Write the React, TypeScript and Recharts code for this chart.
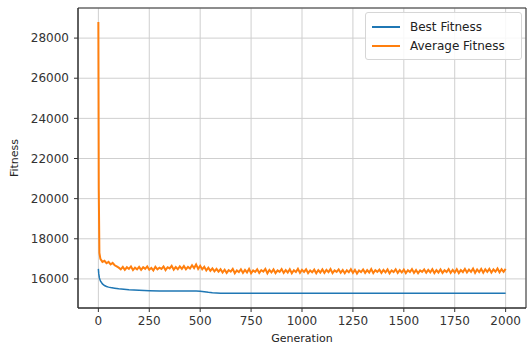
import { LineChart, Line, XAxis, YAxis, CartesianGrid, Legend, ReferenceArea } from 'recharts';

// Best fitness per generation (sparse, the curve is smooth)
const BEST_GENS = [0, 2, 5, 10, 20, 30, 40, 50, 60, 80, 100, 150, 200, 250, 300, 400, 480, 500, 520, 540, 560, 580, 600, 700, 800, 1000, 1250, 1500, 1750, 2000];
const BEST_VALUES = [16500, 16250, 16050, 15900, 15750, 15670, 15620, 15590, 15570, 15540, 15510, 15460, 15430, 15410, 15400, 15400, 15400, 15390, 15360, 15330, 15310, 15300, 15290, 15290, 15290, 15285, 15285, 15280, 15280, 15280];

// Average fitness: first few generations, then every 10 generations
const AVG_EARLY_GENS = [0, 2, 5];
const AVG_EARLY_VALUES = [28800, 20500, 17300];
const AVG_VALUES = [
  17000, 16850, 16900, 16780, 16850, 16720, 16800, 16680, 16620, 16560,
  16480, 16600, 16450, 16580, 16500, 16620, 16440, 16560, 16480, 16600,
  16450, 16580, 16500, 16620, 16460, 16550, 16420, 16600, 16480, 16560,
  16500, 16620, 16440, 16580, 16520, 16650, 16460, 16590, 16480, 16620,
  16500, 16640, 16480, 16600, 16520, 16680, 16540, 16720, 16500, 16650,
  16480, 16600, 16420, 16560, 16400, 16520, 16380, 16500, 16360, 16480,
  16320, 16460, 16300, 16440, 16360, 16500, 16280, 16420, 16340, 16480,
  16300, 16450, 16320, 16500, 16280, 16420, 16350, 16480, 16300, 16440,
  16360, 16500, 16280, 16450, 16330, 16470, 16290, 16420, 16350, 16490,
  16300, 16440, 16320, 16480, 16280, 16430, 16340, 16500, 16300, 16450,
  16350, 16480, 16290, 16420, 16330, 16460, 16280, 16440, 16320, 16470,
  16300, 16450, 16340, 16490, 16290, 16420, 16350, 16470, 16310, 16440,
  16280, 16430, 16330, 16480, 16300, 16450, 16270, 16420, 16340, 16470,
  16300, 16440, 16320, 16490, 16290, 16430, 16350, 16460, 16300, 16450,
  16330, 16470, 16280, 16420, 16340, 16480, 16300, 16440, 16320, 16460,
  16290, 16430, 16340, 16490, 16300, 16440, 16280, 16420, 16350, 16470,
  16310, 16450, 16330, 16480, 16290, 16440, 16320, 16470, 16300, 16430,
  16340, 16490, 16300, 16450, 16320, 16480, 16290, 16440, 16340, 16500,
  16320, 16460, 16350, 16510, 16300, 16470, 16340, 16500, 16310, 16480,
  16350, 16500, 16320, 16470, 16360, 16520, 16330, 16480, 16350, 16500,
];

const X_TICKS = [0, 250, 500, 750, 1000, 1250, 1500, 1750, 2000];
const Y_TICKS = [16000, 18000, 20000, 22000, 24000, 26000, 28000];

const X_DOMAIN: [number, number] = [-100, 2100];
const Y_DOMAIN: [number, number] = [14550, 29500];

const BLUE = '#1f77b4';
const ORANGE = '#ff7f0e';
const FONT = '"DejaVu Sans", sans-serif';

const bestData = BEST_GENS.map((g, i) => ({ gen: g, best: BEST_VALUES[i] }));
const avgData = [
  ...AVG_EARLY_GENS.map((g, i) => ({ gen: g, avg: AVG_EARLY_VALUES[i] })),
  ...AVG_VALUES.map((v, i) => ({ gen: (i + 1) * 10, avg: v })),
];

const legendItems = [
  { label: 'Best Fitness', color: BLUE },
  { label: 'Average Fitness', color: ORANGE },
];

function renderLegend() {
  return (
    <div
      style={{
        border: '1px solid #d6d6d6',
        borderRadius: 3,
        background: 'rgba(255,255,255,0.85)',
        padding: '4px 6px',
        fontFamily: FONT,
        fontSize: 12,
        color: '#222',
        boxSizing: 'border-box',
      }}
    >
      {legendItems.map((item) => (
        <div key={item.label} style={{ display: 'flex', alignItems: 'center', height: 19 }}>
          <span style={{ display: 'inline-block', width: 28, height: 2, background: item.color, marginRight: 10 }} />
          <span>{item.label}</span>
        </div>
      ))}
    </div>
  );
}

export default function App() {
  return (
    <div style={{ position: 'absolute', left: 0, top: 0, background: '#fff' }}>
      <LineChart width={528} height={345} margin={{ top: 8, right: 2, bottom: 7, left: 0 }}>
        <CartesianGrid stroke="#cfcfcf" strokeWidth={1} />
        <XAxis
          dataKey="gen"
          type="number"
          domain={X_DOMAIN}
          ticks={X_TICKS}
          allowDataOverflow
          height={30}
          tickSize={4}
          tickMargin={4}
          stroke="#333"
          tick={{ fill: '#333', fontSize: 12, fontFamily: FONT }}
          label={{
            content: ({ viewBox }: any) => (
              <text
                x={viewBox.x + viewBox.width / 2}
                y={338}
                textAnchor="middle"
                dominantBaseline="central"
                fontSize={11}
                fontFamily={FONT}
                fill="#222"
              >
                Generation
              </text>
            ),
          }}
        />
        <YAxis
          type="number"
          domain={Y_DOMAIN}
          ticks={Y_TICKS}
          allowDataOverflow
          width={78}
          tickSize={4}
          tickMargin={5}
          stroke="#333"
          tick={{ fill: '#333', fontSize: 12, fontFamily: FONT }}
          label={{
            content: ({ viewBox }: any) => {
              const x = 14;
              const y = viewBox.y + viewBox.height / 2;
              return (
                <text
                  x={x}
                  y={y}
                  transform={`rotate(-90 ${x} ${y})`}
                  textAnchor="middle"
                  dominantBaseline="central"
                  fontSize={11}
                  fontFamily={FONT}
                  fill="#222"
                >
                  Fitness
                </text>
              );
            },
          }}
        />
        <ReferenceArea
          x1={X_DOMAIN[0]}
          x2={X_DOMAIN[1]}
          y1={Y_DOMAIN[0]}
          y2={Y_DOMAIN[1]}
          fill="none"
          stroke="#333"
          strokeWidth={1}
          ifOverflow="extendDomain"
        />
        <Line
          data={bestData}
          dataKey="best"
          name="Best Fitness"
          stroke={BLUE}
          strokeWidth={1.5}
          dot={false}
          type="linear"
          isAnimationActive={false}
        />
        <Line
          data={avgData}
          dataKey="avg"
          name="Average Fitness"
          stroke={ORANGE}
          strokeWidth={2}
          dot={false}
          type="linear"
          isAnimationActive={false}
        />
        <Legend
          verticalAlign="middle"
          layout="horizontal"
          content={renderLegend}
          wrapperStyle={{ top: 12, left: 365, width: 157, height: 48 }}
        />
      </LineChart>
    </div>
  );
}
